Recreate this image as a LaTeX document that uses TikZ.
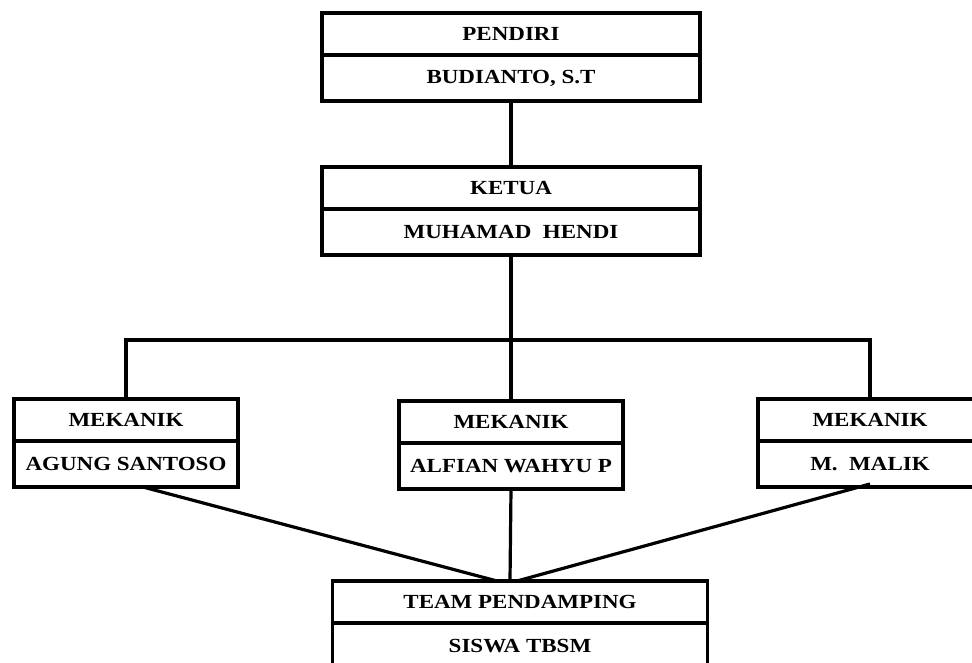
\documentclass[tikz,border=0pt]{standalone}
\usepackage{fontspec}
\setmainfont[FakeStretch=1.15]{Liberation Serif}
\usetikzlibrary{positioning}

\begin{document}
\begin{tikzpicture}[x=1pt,y=-1pt,line width=3.2pt,
    cellbox/.style={draw,outer sep=0pt,inner sep=0pt,minimum width=#1,
                 font=\bfseries\fontsize{20}{20}\selectfont},
    headbox/.style={cellbox=#1,minimum height=42pt},
    namebox/.style={cellbox=#1,minimum height=46pt}]
      \clip (0,0) rectangle (972,662);
      % pendiri
      \node[headbox=378pt] (pendiri) at (511,34) {PENDIRI};
      \node[namebox=378pt,below=0pt of pendiri] (budi) {BUDIANTO, S.T};
      % ketua
      \node[headbox=378pt] (ketua) at (511,188) {KETUA};
      \node[namebox=378pt,below=0pt of ketua] (hendi) {MUHAMAD\ \ HENDI};
      % mekanik
      \node[headbox=224pt] (mekA) at (126,420) {MEKANIK};
      \node[namebox=224pt,below=0pt of mekA] (agung) {AGUNG SANTOSO};
      \node[headbox=224pt] (mekB) at (511,422) {MEKANIK};
      \node[namebox=224pt,below=0pt of mekB] (alfian) {ALFIAN WAHYU P};
      \node[headbox=224pt] (mekC) at (870,420) {MEKANIK};
      \node[namebox=224pt,below=0pt of mekC] (malik) {M.\ \ MALIK};
      % team pendamping
      \node[headbox=375pt] (team) at (520,602) {TEAM PENDAMPING};
      \node[namebox=375pt,below=0pt of team] (siswa) {SISWA TBSM};
      % connectors
      \coordinate (bar) at (511,340);
      \draw (budi.south) -- (ketua.north);
      \draw (hendi.south) -- (mekB.north);
      \draw (mekA.north) |- (bar) -| (mekC.north);
      \draw ([xshift=17pt]agung.south) -- ([xshift=-23pt]team.north);
      \draw (alfian.south) -- ([xshift=-10pt]team.north);
      \draw ([yshift=3pt]malik.south) -- ([xshift=-3pt]team.north);
\end{tikzpicture}
\end{document}
